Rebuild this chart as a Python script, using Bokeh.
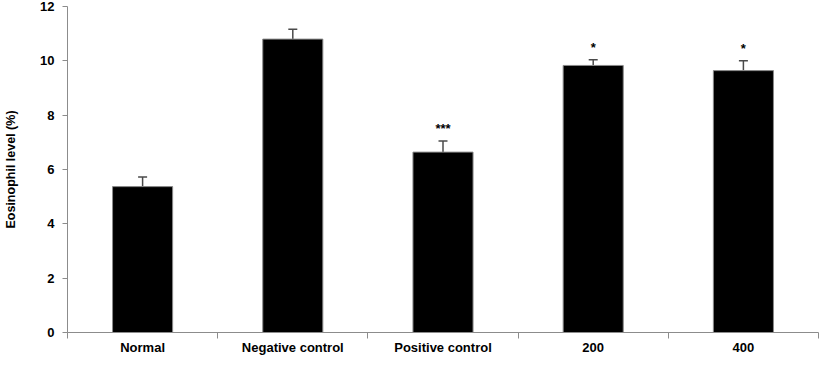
from bokeh.plotting import figure
from bokeh.models import FixedTicker, Range1d, Whisker, ColumnDataSource, TeeHead
from bokeh.core.properties import value
from bokeh.embed import file_html
from bokeh.resources import INLINE

categories = ["Normal", "Negative control", "Positive control", "200", "400"]
means = [5.37, 10.8, 6.64, 9.83, 9.64]
errors = [0.35, 0.36, 0.41, 0.21, 0.36]
stars = ["", "", "***", "*", "*"]
y_ticks = [0, 2, 4, 6, 8, 10, 12]

FONT = "Liberation Sans"
AXIS_GRAY = "#8c8c8c"
xs = [i + 0.5 for i in range(len(categories))]

p = figure(width=819, height=357, output_backend="svg", toolbar_location=None,
           x_range=Range1d(0, len(categories)), y_range=Range1d(0, 12),
           min_border_left=67, min_border_right=1, min_border_top=6, min_border_bottom=20)
p.outline_line_color = None
p.grid.grid_line_color = None

src = ColumnDataSource(dict(x=xs, top=means, up=[m + e for m, e in zip(means, errors)],
                            star=stars, sy=[m + e + 0.45 for m, e in zip(means, errors)]))

p.vbar(x="x", top="top", width=0.4, bottom=0, source=src,
       fill_color="black", line_color="#8a8a8a", line_width=1)

w = Whisker(base="x", upper="up", lower="top", source=src, line_color="#4a4a4a", line_width=1.5,
            upper_head=TeeHead(size=9, line_color="#4a4a4a", line_width=1.5), lower_head=None)
p.add_layout(w)

p.text(x="x", y="sy", text="star", source=src, text_font=value(FONT), text_font_style="bold",
       text_font_size="13px", text_align="center", text_baseline="middle", text_color="black")

# y axis
p.yaxis.ticker = FixedTicker(ticks=y_ticks)
p.yaxis.axis_line_color = AXIS_GRAY
p.yaxis.major_tick_line_color = AXIS_GRAY
p.yaxis.major_tick_out = 5
p.yaxis.major_tick_in = 0
p.yaxis.minor_tick_line_color = None
p.yaxis.major_label_text_font = FONT
p.yaxis.major_label_text_font_style = "bold"
p.yaxis.major_label_text_font_size = "13px"
p.yaxis.major_label_text_color = "black"
p.yaxis.major_label_standoff = 8
p.yaxis.axis_label = "Eosinophil level (%)"
p.yaxis.axis_label_text_font = FONT
p.yaxis.axis_label_text_font_style = "bold"
p.yaxis.axis_label_text_font_size = "12.5px"
p.yaxis.axis_label_text_color = "black"
p.yaxis.axis_label_standoff = 19

# x axis
p.xaxis.ticker = FixedTicker(ticks=xs, minor_ticks=list(range(len(categories) + 1)))
p.xaxis.major_label_overrides = {x: c for x, c in zip(xs, categories)}
p.xaxis.axis_line_color = AXIS_GRAY
p.xaxis.major_tick_line_color = None
p.xaxis.major_tick_out = 0
p.xaxis.major_tick_in = 0
p.xaxis.minor_tick_line_color = AXIS_GRAY
p.xaxis.minor_tick_out = 6
p.xaxis.minor_tick_in = 0
p.xaxis.major_label_text_font = FONT
p.xaxis.major_label_text_font_style = "bold"
p.xaxis.major_label_text_font_size = "13px"
p.xaxis.major_label_text_color = "black"
p.xaxis.major_label_standoff = 1

open("out.html", "w").write(file_html(p, INLINE))
